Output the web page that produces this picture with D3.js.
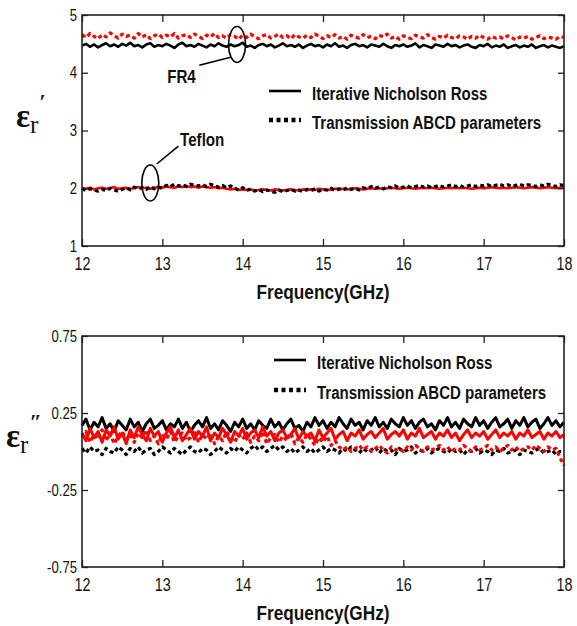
<!DOCTYPE html>
<html>
<head>
<meta charset="utf-8">
<script src="https://cdn.jsdelivr.net/npm/d3@7"></script>
<style>
    body { margin: 0; background: #fff; }
    svg { display: block; }
</style>
</head>
<body>
<div id="chart"></div>
<script>
// Frequency sweep (GHz): 121 points, 12 to 18 GHz
const freqStart = 12;
const freqStep = 0.05;

// Top panel: real permittivity
const fr4Inr = [
    4.47,4.50,4.45,4.49,4.44,4.48,4.51,4.46,4.49,4.45,
    4.50,4.47,4.52,4.46,4.48,4.44,4.49,4.51,4.45,4.48,
    4.46,4.50,4.47,4.43,4.49,4.52,4.46,4.48,4.45,4.50,
    4.47,4.44,4.49,4.46,4.51,4.47,4.45,4.49,4.46,4.48,
    4.52,4.45,4.47,4.43,4.48,4.50,4.46,4.49,4.44,4.47,
    4.51,4.46,4.48,4.45,4.49,4.43,4.47,4.50,4.46,4.48,
    4.44,4.49,4.46,4.51,4.45,4.47,4.43,4.48,4.50,4.46,
    4.48,4.44,4.49,4.47,4.45,4.50,4.46,4.43,4.48,4.46,
    4.49,4.45,4.47,4.51,4.44,4.48,4.46,4.43,4.49,4.47,
    4.45,4.50,4.46,4.48,4.44,4.47,4.49,4.45,4.43,4.48,
    4.46,4.50,4.44,4.47,4.45,4.49,4.43,4.46,4.48,4.44,
    4.47,4.45,4.49,4.43,4.46,4.48,4.44,4.47,4.45,4.43,
    4.46
];
const fr4Abcd = [
    4.66,4.61,4.68,4.63,4.59,4.66,4.62,4.69,4.64,4.60,
    4.67,4.63,4.65,4.60,4.68,4.62,4.66,4.59,4.64,4.67,
    4.61,4.65,4.62,4.68,4.60,4.64,4.66,4.61,4.67,4.63,
    4.59,4.65,4.62,4.68,4.61,4.64,4.60,4.66,4.63,4.58,
    4.65,4.61,4.67,4.62,4.59,4.64,4.66,4.60,4.63,4.67,
    4.61,4.64,4.59,4.66,4.62,4.60,4.65,4.61,4.67,4.63,
    4.59,4.64,4.61,4.66,4.60,4.63,4.58,4.65,4.62,4.60,
    4.66,4.61,4.63,4.59,4.65,4.62,4.67,4.60,4.63,4.58,
    4.64,4.61,4.59,4.65,4.62,4.60,4.66,4.61,4.58,4.63,
    4.60,4.65,4.61,4.59,4.64,4.62,4.58,4.63,4.60,4.65,
    4.61,4.58,4.63,4.60,4.62,4.59,4.64,4.61,4.57,4.62,
    4.60,4.63,4.58,4.61,4.64,4.59,4.62,4.60,4.58,4.63,
    4.61
];
const teflonSolid = [
    2.00,1.99,2.01,1.98,2.00,2.01,1.99,2.00,2.02,1.99,
    2.00,2.01,1.99,2.00,2.02,2.00,2.01,1.99,2.01,2.02,
    2.01,2.03,2.02,2.01,2.03,2.02,2.04,2.02,2.03,2.01,
    2.03,2.02,2.01,2.02,2.00,2.01,1.99,1.98,1.99,1.97,
    1.98,1.97,1.98,1.96,1.97,1.98,1.97,1.96,1.98,1.97,
    1.96,1.97,1.98,1.97,1.96,1.98,1.97,1.98,1.97,1.99,
    1.98,1.97,1.98,1.99,1.98,1.99,1.98,1.99,2.00,1.99,
    1.98,1.99,2.00,1.99,2.00,1.99,2.00,2.01,2.00,1.99,
    2.00,2.01,2.00,1.99,2.00,2.01,2.00,2.01,2.00,1.99,
    2.00,2.01,2.00,2.01,2.00,2.01,2.00,1.99,2.00,2.01,
    2.00,2.01,2.02,2.01,2.00,2.01,2.00,2.01,2.02,2.01,
    2.00,2.01,2.02,2.01,2.00,2.01,2.02,2.01,2.00,2.01,
    2.01
];
const teflonDotted = [
    2.00,1.96,1.99,1.97,1.95,1.98,1.96,2.00,1.97,1.95,
    1.98,2.01,1.97,2.02,1.99,2.01,1.98,2.03,1.99,2.02,
    2.00,2.05,2.03,2.07,2.04,2.06,2.03,2.07,2.05,2.04,
    2.06,2.03,2.07,2.04,2.02,2.05,2.01,2.04,2.00,1.97,
    2.01,1.96,1.99,1.95,1.98,1.94,1.97,1.95,1.93,1.97,
    1.94,1.96,1.98,1.95,1.97,1.94,1.98,1.96,1.99,1.95,
    1.98,1.97,2.00,1.96,1.99,1.97,2.01,1.98,2.00,1.97,
    2.01,1.99,2.03,2.00,2.02,1.99,2.03,2.01,2.04,2.00,
    2.02,2.04,2.01,2.03,2.05,2.02,2.04,2.01,2.03,2.05,
    2.02,2.04,2.06,2.03,2.05,2.02,2.04,2.06,2.03,2.05,
    2.04,2.06,2.03,2.05,2.07,2.04,2.06,2.03,2.05,2.07,
    2.04,2.06,2.05,2.03,2.06,2.04,2.07,2.05,2.03,2.06,
    2.05
];

// Bottom panel: imaginary permittivity
const lossBlackSolid = [
    0.17,0.21,0.14,0.19,0.16,0.22,0.15,0.18,0.13,0.20,
    0.17,0.14,0.21,0.16,0.19,0.13,0.18,0.21,0.15,0.17,
    0.20,0.14,0.18,0.16,0.21,0.15,0.19,0.13,0.17,0.20,
    0.16,0.22,0.15,0.18,0.14,0.20,0.17,0.13,0.19,0.16,
    0.21,0.15,0.18,0.14,0.20,0.17,0.15,0.21,0.16,0.19,
    0.14,0.18,0.21,0.15,0.17,0.13,0.19,0.16,0.22,0.17,
    0.20,0.15,0.19,0.16,0.22,0.18,0.15,0.21,0.17,0.19,
    0.14,0.20,0.17,0.22,0.16,0.19,0.15,0.21,0.18,0.16,
    0.22,0.17,0.20,0.15,0.19,0.21,0.16,0.18,0.14,0.20,
    0.17,0.22,0.16,0.19,0.15,0.21,0.18,0.16,0.22,0.17,
    0.20,0.15,0.19,0.22,0.16,0.18,0.21,0.15,0.20,0.17,
    0.22,0.16,0.19,0.21,0.15,0.18,0.22,0.17,0.20,0.16,
    0.19
];
const lossBlackDotted = [
    0.02,-0.01,0.03,0.00,0.01,-0.02,0.02,0.00,-0.01,0.03,
    0.01,-0.02,0.02,0.00,0.03,-0.01,0.01,0.02,-0.02,0.00,
    0.03,0.01,-0.01,0.02,0.00,-0.02,0.01,0.03,0.00,-0.01,
    0.02,0.01,-0.02,0.00,0.03,0.01,-0.01,0.02,0.00,0.03,
    0.01,-0.01,0.02,0.04,0.01,0.03,0.00,0.02,0.04,0.01,
    0.03,0.00,0.02,-0.01,0.01,0.03,0.00,0.02,-0.01,0.01,
    0.03,0.00,0.02,0.01,-0.01,0.02,0.00,0.03,0.01,-0.01,
    0.02,0.00,0.01,0.03,-0.01,0.02,0.00,0.01,-0.02,0.02,
    0.00,0.01,0.03,-0.01,0.01,0.00,0.02,-0.01,0.01,0.02,
    0.00,-0.01,0.02,0.00,0.01,-0.02,0.01,0.00,0.02,-0.01,
    0.01,0.00,-0.02,0.01,0.00,0.02,-0.01,0.00,0.01,-0.02,
    0.01,0.00,-0.01,0.01,0.02,-0.01,0.00,0.01,-0.02,0.00,
    0.00
];
const lossRedSolid = [
    0.12,0.07,0.15,0.09,0.13,0.06,0.14,0.10,0.16,0.08,
    0.12,0.05,0.14,0.09,0.16,0.11,0.07,0.15,0.10,0.13,
    0.06,0.12,0.16,0.09,0.14,0.07,0.11,0.15,0.08,0.13,
    0.10,0.16,0.07,0.12,0.09,0.15,0.11,0.06,0.13,0.10,
    0.15,0.08,0.12,0.14,0.09,0.16,0.10,0.13,0.07,0.12,
    0.14,0.09,0.11,0.15,0.08,0.13,0.10,0.12,0.07,0.14,
    0.09,0.12,0.15,0.08,0.11,0.13,0.07,0.12,0.10,0.14,
    0.08,0.11,0.13,0.09,0.12,0.15,0.08,0.11,0.13,0.10,
    0.14,0.08,0.12,0.10,0.15,0.09,0.11,0.13,0.08,0.12,
    0.10,0.14,0.09,0.12,0.07,0.11,0.14,0.09,0.12,0.10,
    0.13,0.08,0.11,0.14,0.09,0.12,0.10,0.13,0.08,0.12,
    0.10,0.14,0.09,0.11,0.13,0.08,0.12,0.10,0.13,0.09,
    0.11
];
const lossRedDotted = [
    0.09,0.13,0.06,0.11,0.08,0.14,0.07,0.12,0.05,0.10,
    0.13,0.08,0.11,0.06,0.12,0.09,0.14,0.07,0.10,0.05,
    0.11,0.08,0.13,0.06,0.10,0.12,0.07,0.09,0.14,0.06,
    0.11,0.08,0.12,0.05,0.10,0.07,0.13,0.09,0.06,0.11,
    0.08,0.12,0.06,0.10,0.07,0.13,0.05,0.09,0.11,0.06,
    0.10,0.07,0.12,0.05,0.09,0.06,0.11,0.08,0.04,0.09,
    0.06,0.10,0.04,0.07,0.03,0.01,0.03,0.00,0.02,0.04,
    0.01,0.03,0.00,0.02,0.04,0.01,-0.01,0.03,0.01,0.02,
    0.00,0.03,0.01,0.04,0.02,0.00,0.03,0.01,0.02,0.04,
    0.01,0.03,0.00,0.02,0.01,0.04,0.02,0.00,0.03,0.01,
    0.02,0.04,0.01,0.03,0.00,0.02,0.04,0.01,0.03,0.00,
    0.02,0.03,0.01,0.04,0.02,0.00,0.03,0.01,0.02,-0.04,
    -0.09
];

// Axis ticks
const xTicks = [12, 13, 14, 15, 16, 17, 18];
const yTicksTop = [1, 2, 3, 4, 5];
const yTicksBottom = [-0.75, -0.25, 0.25, 0.75];
const legendLabels = ['Iterative Nicholson Ross', 'Transmission ABCD parameters'];

// Annotations on the top panel (data coordinates)
const fr4Note = { text: 'FR4', ellipse: [13.93, 4.49], label: [13.06, 3.93], leader: [[13.46, 4.13], [13.85, 4.27]] };
const teflonNote = { text: 'Teflon', ellipse: [12.85, 2.09], label: [13.22, 2.84], leader: [[12.93, 2.42], [13.2, 2.73]] };

const width = 577;
const height = 626;
const DOT = '4,3';
const FONT = '"Liberation Sans", Arial, sans-serif';

const freqs = d3.range(fr4Inr.length).map(i => freqStart + i * freqStep);

const svg = d3.select('#chart')
    .append('svg')
    .attr('width', width)
    .attr('height', height);

// Squeeze text horizontally so it looks like a narrow font
function narrow(sel, k = 0.82) {
    sel.each(function() {
        const len = this.getComputedTextLength();
        d3.select(this)
            .attr('textLength', len * k)
            .attr('lengthAdjust', 'spacingAndGlyphs');
    });
}

// Draw one MATLAB-style panel with box, inward ticks and legend
function drawPanel(opts) {
    const { left, top, w, h, yDomain, yTicks, yFormat, series, legendPos, symbol, lineWidth } = opts;

    const x = d3.scaleLinear().domain([12, 18]).range([0, w]);
    const y = d3.scaleLinear().domain(yDomain).range([h, 0]);

    const g = svg.append('g').attr('transform', `translate(${left},${top})`);

    const line = d3.line()
        .x((d, i) => x(freqs[i]))
        .y(d => y(d));

    series.forEach(s => {
        g.append('path')
            .datum(s.values)
            .attr('fill', 'none')
            .attr('stroke', s.color)
            .attr('stroke-width', s.dotted ? 3.2 : lineWidth)
            .attr('stroke-dasharray', s.dotted ? DOT : null)
            .attr('stroke-linejoin', 'round')
            .attr('d', line);
    });

    // Bottom axis with labels
    const xAxis = g.append('g')
        .attr('transform', `translate(0,${h})`)
        .call(d3.axisBottom(x).tickValues(xTicks).tickSizeInner(-7).tickSizeOuter(0).tickPadding(12).tickFormat(d3.format('d')));
    // Top axis ticks only
    const xTop = g.append('g')
        .call(d3.axisTop(x).tickValues(xTicks).tickSizeInner(-7).tickSizeOuter(0).tickFormat(''));
    // Left axis with labels
    const yAxis = g.append('g')
        .call(d3.axisLeft(y).tickValues(yTicks).tickSizeInner(-6).tickSizeOuter(0).tickPadding(5).tickFormat(yFormat));
    // Right axis ticks only
    const yRight = g.append('g')
        .attr('transform', `translate(${w},0)`)
        .call(d3.axisRight(y).tickValues(yTicks).tickSizeInner(-6).tickSizeOuter(0).tickFormat(''));

    [xAxis, xTop, yAxis, yRight].forEach(a => {
        a.select('.domain').remove();
        a.selectAll('.tick line').attr('stroke', '#222').attr('stroke-width', 1.3);
    });
    xAxis.selectAll('text')
        .style('font-family', FONT)
        .style('font-size', '17.5px')
        .attr('fill', '#111')
        .call(narrow);
    yAxis.selectAll('text')
        .style('font-family', FONT)
        .style('font-size', '16px')
        .attr('fill', '#111')
        .call(narrow);

    // Box
    g.append('rect')
        .attr('width', w)
        .attr('height', h)
        .attr('fill', 'none')
        .attr('stroke', '#222')
        .attr('stroke-width', 1.6);

    // x-axis title
    g.append('text')
        .attr('x', w / 2)
        .attr('y', h + 46)
        .attr('dy', '0.35em')
        .attr('text-anchor', 'middle')
        .style('font-family', FONT)
        .style('font-size', '21px')
        .style('font-weight', 'bold')
        .attr('fill', '#111')
        .text('Frequency(GHz)')
        .call(narrow);

    // Legend
    legendLabels.forEach((label, i) => {
        const ly = legendPos.y + i * legendPos.gap;
        g.append('line')
            .attr('x1', legendPos.x)
            .attr('x2', legendPos.x + 32)
            .attr('y1', ly)
            .attr('y2', ly)
            .attr('stroke', '#000')
            .attr('stroke-width', i === 0 ? 2.6 : 4.5)
            .attr('stroke-dasharray', i === 0 ? null : '4,3.5');
        g.append('text')
            .attr('x', legendPos.x + 43)
            .attr('y', ly + 3)
            .attr('dy', '0.35em')
            .style('font-family', FONT)
            .style('font-size', '18px')
            .style('font-weight', 'bold')
            .attr('fill', '#111')
            .text(label)
            .call(narrow, 0.835);
    });

    // y-axis symbol (epsilon_r with primes)
    const sym = svg.append('text')
        .attr('x', symbol.x)
        .attr('y', symbol.y)
        .style('font-family', '"Liberation Serif", "DejaVu Serif", serif')
        .attr('fill', '#111');
    sym.append('tspan').style('font-size', '33px').style('font-weight', 'bold').text('ε');
    sym.append('tspan').style('font-size', '25px').attr('dy', 6).text('r');
    sym.append('tspan').style('font-size', '22px').style('font-weight', 'bold').attr('dy', -24).attr('dx', 1).text(symbol.prime);

    return { g, x, y };
}

// Top panel
const topPanel = drawPanel({
    left: 82, top: 15, w: 482, h: 231,
    yDomain: [1, 5],
    yTicks: yTicksTop,
    yFormat: d3.format('d'),
    lineWidth: 2.6,
    series: [
        { values: fr4Inr, color: '#000', dotted: false },
        { values: fr4Abcd, color: '#ff0000', dotted: true },
        { values: teflonSolid, color: '#ff0000', dotted: false },
        { values: teflonDotted, color: '#000', dotted: true }
    ],
    legendPos: { x: 187, y: 76, gap: 29 },
    symbol: { x: 16, y: 127, prime: '\u02B9' }
});

// Bottom panel
drawPanel({
    left: 82, top: 336, w: 482, h: 231,
    yDomain: [-0.75, 0.75],
    yTicks: yTicksBottom,
    yFormat: d => d.toFixed(2),
    lineWidth: 3,
    series: [
        { values: lossBlackSolid, color: '#000', dotted: false },
        { values: lossBlackDotted, color: '#000', dotted: true },
        { values: lossRedSolid, color: '#ff0000', dotted: false },
        { values: lossRedDotted, color: '#ff0000', dotted: true }
    ],
    legendPos: { x: 192, y: 24, gap: 30 },
    symbol: { x: 6, y: 447, prime: '\u02BA' }
});

// Annotations (ellipses and leader lines) on the top panel
function annotate(note) {
    const { g, x, y } = topPanel;
    g.append('ellipse')
        .attr('cx', x(note.ellipse[0]))
        .attr('cy', y(note.ellipse[1]))
        .attr('rx', 8.5)
        .attr('ry', 18)
        .attr('fill', 'none')
        .attr('stroke', '#000')
        .attr('stroke-width', 1.6);
    g.append('line')
        .attr('x1', x(note.leader[0][0]))
        .attr('y1', y(note.leader[0][1]))
        .attr('x2', x(note.leader[1][0]))
        .attr('y2', y(note.leader[1][1]))
        .attr('stroke', '#000')
        .attr('stroke-width', 1.6);
    g.append('text')
        .attr('x', x(note.label[0]))
        .attr('y', y(note.label[1]))
        .attr('dy', '0.35em')
        .style('font-family', FONT)
        .style('font-size', '18.5px')
        .style('font-weight', 'bold')
        .attr('fill', '#111')
        .text(note.text)
        .call(narrow);
}

annotate(fr4Note);
annotate(teflonNote);
</script>
</body>
</html>
